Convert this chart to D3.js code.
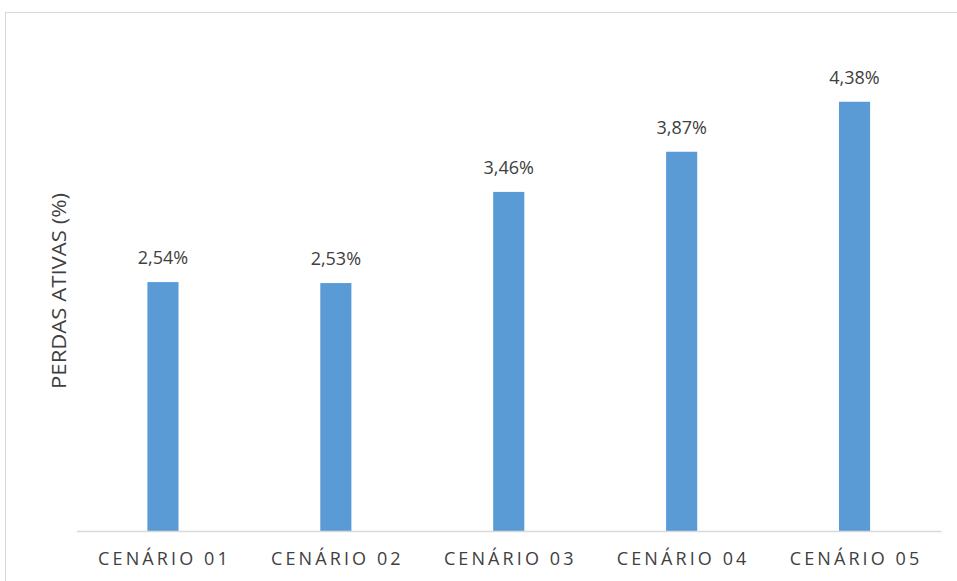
<!DOCTYPE html>
<html>
<head>
<meta charset="utf-8">
<script src="https://cdn.jsdelivr.net/npm/d3@7"></script>
<style>
  html, body { margin: 0; padding: 0; background: #fff; }
  svg text { font-family: "Open Sans", "Liberation Sans", sans-serif; fill: #404040; }
</style>
</head>
<body>
<svg id="chart" width="957" height="581"></svg>
<script>
// Cenários simulados e perdas ativas (%)
const categories = ["CENÁRIO 01", "CENÁRIO 02", "CENÁRIO 03", "CENÁRIO 04", "CENÁRIO 05"];
const perdas = [2.54, 2.53, 3.46, 3.87, 4.38];
const yDomain = [0, 5];
const yTitle = "PERDAS ATIVAS (%)";

const svg = d3.select("#chart");

// moldura do gráfico
svg.append("rect")
  .attr("x", 5.5).attr("y", 12.5)
  .attr("width", 960).attr("height", 600)
  .attr("fill", "none").attr("stroke", "#D9D9D9").attr("stroke-width", 1);

const x = d3.scaleBand()
  .domain(categories)
  .range([76.5, 941])
  .paddingInner(0.82).paddingOuter(0.41);

const y = d3.scaleLinear().domain(yDomain).range([531, 41]);

const fmt = v => d3.format(".2f")(v).replace(".", ",") + "%";

// barras
svg.append("g").selectAll("rect")
  .data(perdas)
  .join("rect")
  .attr("x", (d, i) => x(categories[i]))
  .attr("y", d => y(d))
  .attr("width", x.bandwidth())
  .attr("height", d => y(0) - y(d))
  .attr("fill", "#5B9BD5");

// rótulos de valor
svg.append("g").selectAll("text")
  .data(perdas)
  .join("text")
  .attr("x", (d, i) => x(categories[i]) + x.bandwidth() / 2)
  .attr("y", d => y(d) - 18)
  .attr("text-anchor", "middle")
  .attr("font-size", 18)
  .text(d => fmt(d));

// eixo das categorias
const xAxis = svg.append("g")
  .attr("transform", `translate(0,${y(0)})`)
  .call(d3.axisBottom(x).tickSize(0).tickPadding(0));
xAxis.select(".domain").attr("stroke", "#D9D9D9").attr("stroke-width", 1.5);
xAxis.selectAll(".tick text")
  .attr("y", 34)
  .attr("dy", 0)
  .attr("dx", 1.5)
  .attr("font-size", 18)
  .style("letter-spacing", "3.1px")
  .style("font-family", "'Open Sans', sans-serif")
  .attr("fill", "#404040");

// título do eixo vertical
svg.append("text")
  .attr("transform", "translate(66,291) rotate(-90)")
  .attr("text-anchor", "middle")
  .attr("font-size", 19.5)
  .attr("textLength", 196)
  .attr("lengthAdjust", "spacingAndGlyphs")
  .text(yTitle);
</script>
</body>
</html>
